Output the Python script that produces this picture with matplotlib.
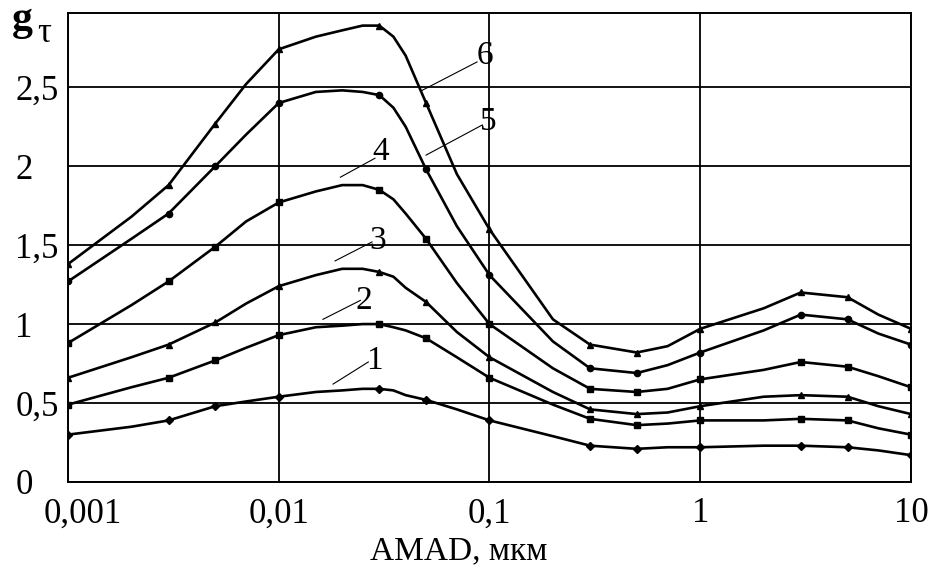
import numpy as np
import matplotlib
matplotlib.use('Agg')
import matplotlib.pyplot as plt
from matplotlib.transforms import ScaledTranslation

plt.rcParams['font.family'] = ['Liberation Serif', 'DejaVu Serif']

# AMAD values (mkm)
amad = [0.001, 0.002, 0.003, 0.005, 0.007, 0.01, 0.015, 0.02, 0.025, 0.03, 0.035,
        0.04, 0.05, 0.07, 0.1, 0.2, 0.3, 0.5, 0.7, 1, 2, 3, 5, 7, 10]
# points that carry a marker in the original
marker_amad = [0.001, 0.003, 0.005, 0.01, 0.03, 0.05, 0.1, 0.3, 0.5, 1, 3, 5, 10]

g1 = [0.30, 0.35, 0.39, 0.48, 0.51, 0.54, 0.57, 0.58, 0.59, 0.59, 0.58,
      0.55, 0.52, 0.46, 0.39, 0.29, 0.23, 0.21, 0.22, 0.22, 0.23, 0.23, 0.22, 0.20, 0.17]
g2 = [0.49, 0.60, 0.66, 0.77, 0.85, 0.93, 0.98, 0.99, 1.00, 1.00, 0.98,
      0.96, 0.91, 0.79, 0.66, 0.49, 0.40, 0.36, 0.37, 0.39, 0.39, 0.40, 0.39, 0.34, 0.30]
g3 = [0.66, 0.79, 0.87, 1.01, 1.13, 1.24, 1.31, 1.35, 1.35, 1.33, 1.30,
      1.23, 1.14, 0.95, 0.79, 0.57, 0.46, 0.43, 0.44, 0.48, 0.54, 0.55, 0.54, 0.48, 0.43]
g4 = [0.88, 1.12, 1.27, 1.49, 1.65, 1.77, 1.84, 1.88, 1.88, 1.85, 1.79,
      1.70, 1.54, 1.26, 1.00, 0.72, 0.59, 0.57, 0.59, 0.65, 0.71, 0.76, 0.73, 0.67, 0.60]
g5 = [1.27, 1.54, 1.70, 2.00, 2.20, 2.40, 2.47, 2.48, 2.47, 2.45, 2.37,
      2.25, 1.98, 1.62, 1.31, 0.89, 0.72, 0.69, 0.74, 0.82, 0.96, 1.06, 1.03, 0.94, 0.87]
g6 = [1.38, 1.68, 1.88, 2.27, 2.52, 2.74, 2.82, 2.86, 2.89, 2.89, 2.82,
      2.70, 2.40, 1.95, 1.60, 1.03, 0.87, 0.82, 0.86, 0.97, 1.10, 1.20, 1.17, 1.06, 0.97]

curves = [g1, g2, g3, g4, g5, g6]
curve_names = ['1', '2', '3', '4', '5', '6']
markers = ['D', 's', '^', 's', 'o', '^']

xticks = [0.001, 0.01, 0.1, 1, 10]
xtick_labels = ['0,001', '0,01', '0,1', '1', '10']
yticks = [0, 0.5, 1, 1.5, 2, 2.5]
ytick_labels = ['0', '0,5', '1', '1,5', '2', '2,5']

# curve number: text position, leader start, leader end
name_pos = [(0.0286, 0.77), (0.0254, 1.15), (0.0293, 1.53),
            (0.0303, 2.09), (0.0985, 2.28), (0.0953, 2.70)]
leader_from = [(0.0181, 0.62), (0.0162, 1.03), (0.0185, 1.40),
               (0.0196, 1.93), (0.050, 2.07), (0.0479, 2.48)]
leader_to = [(0.0266, 0.76), (0.0244, 1.15), (0.0277, 1.52),
             (0.0286, 2.05), (0.0922, 2.26), (0.0873, 2.66)]

fig = plt.figure(figsize=(9.33, 5.69), dpi=100)
ax = fig.add_axes([0.0729, 0.1529, 0.9035, 0.8243])

mark_idx = [amad.index(v) for v in marker_amad]
for g, m in zip(curves, markers):
    ax.plot(amad, g, color='black', lw=1.9, solid_joinstyle='round',
            marker=m, markevery=mark_idx, ms=4.5, mfc='black', mec='black')

for n, p, a, b in zip(curve_names, name_pos, leader_from, leader_to):
    ax.plot([a[0], b[0]], [a[1], b[1]], color='black', lw=0.8)
    ax.text(p[0], p[1], n, fontsize=24, ha='center', va='center')

ax.set_xscale('log')
ax.set_xlim(0.001, 10)
ax.set_ylim(0, 2.97)
ax.set_xticks(xticks)
ax.set_xticklabels(xtick_labels, fontsize=25)
ax.xaxis.set_minor_locator(plt.NullLocator())
ax.set_yticks(yticks)
ax.set_yticklabels(ytick_labels, fontsize=25)
ax.tick_params(axis='both', length=0)
ax.tick_params(axis='x', pad=11)
ax.tick_params(axis='y', pad=38)
for lab in ax.get_yticklabels():
    lab.set_horizontalalignment('left')
ax.grid(True, color='black', lw=1.3)
for s in ax.spines.values():
    s.set_linewidth(1.4)

first = ax.get_xticklabels()[0]
first.set_transform(first.get_transform() + ScaledTranslation(0.15, 0, fig.dpi_scale_trans))

ax.set_xlabel('AMAD, мкм', fontsize=24)
ax.xaxis.set_label_coords(0.464, -0.165)
ax.xaxis.label.set_va('baseline')

fig.text(12 / 933, 1 - 30 / 569, 'g', fontsize=30, fontweight='bold', ha='left', va='baseline')
fig.text(37 / 933, 1 - 42 / 569, 'τ', fontsize=25, ha='left', va='baseline')

fig.savefig('out.png', dpi=100)
